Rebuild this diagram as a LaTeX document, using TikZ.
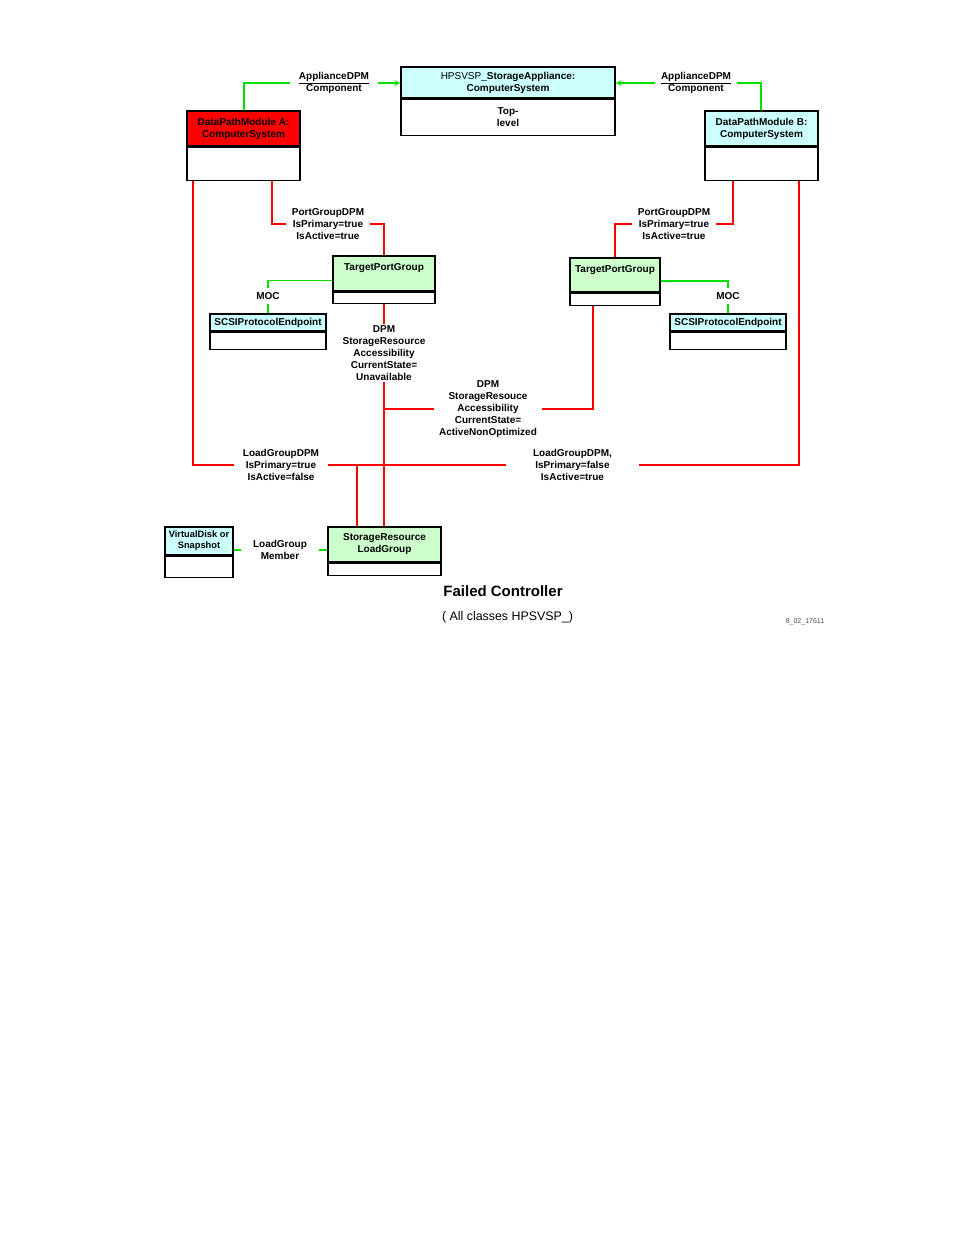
\documentclass[tikz,border=0pt]{standalone}
\usepackage{fontspec}
\setmainfont{Liberation Sans}
\usetikzlibrary{positioning}

\definecolor{hdrcyan}{RGB}{204,255,255}
\definecolor{hdrgreen}{RGB}{204,255,204}
\definecolor{linkgreen}{RGB}{0,225,0}
\definecolor{linkred}{RGB}{255,0,0}

\newcommand\boxfont{\fontsize{10}{12}\selectfont\bfseries}

\begin{document}
\begin{tikzpicture}[
  x=1pt, y=-1pt,
  cls/.style={draw, line width=1.5pt, rectangle, inner sep=0pt, align=center, font=\boxfont},
  hdcyan/.style={cls, fill=hdrcyan},
  hdgreen/.style={cls, fill=hdrgreen},
  hdred/.style={cls, fill=linkred},
  tag/.style={inner xsep=6pt, inner ysep=1pt, align=center, font=\boxfont},
  dpm/.style={draw=linkred, line width=2pt},
  comp/.style={draw=linkgreen, line width=1.6pt},
  arrow/.style={->, >=stealth}
]
\useasboundingbox (0,0) rectangle (954,1235);

% Top level system
\node[hdcyan, minimum width=214pt, minimum height=31pt] (app) at (508,82.5)
  {{\mdseries HPSVSP\_}StorageAppliance:\\ComputerSystem};
\node[cls, minimum width=214pt, minimum height=36pt, below=0pt of app] (appb) {Top-\\level};

% Data path modules
\node[hdred, minimum width=113pt, minimum height=35pt] (dpmA) at (243.5,128.5) {DataPathModule A:\\ComputerSystem};
\node[cls, minimum width=113pt, minimum height=33pt, below=0pt of dpmA] (dpmAb) {};
\node[hdcyan, minimum width=113pt, minimum height=35pt] (dpmB) at (761.5,128.5) {DataPathModule B:\\ComputerSystem};
\node[cls, minimum width=113pt, minimum height=33pt, below=0pt of dpmB] (dpmBb) {};

% Target port groups
\node[hdgreen, minimum width=102pt, minimum height=35pt] (tpgL) at (384,273.5) {TargetPortGroup\\\mbox{}};
\node[cls, minimum width=102pt, minimum height=11pt, below=0pt of tpgL] (tpgLb) {};
\node[hdgreen, minimum width=90pt, minimum height=34pt] (tpgR) at (615,275) {TargetPortGroup\\\mbox{}};
\node[cls, minimum width=90pt, minimum height=12pt, below=0pt of tpgR] (tpgRb) {};

% Protocol endpoints
\node[hdcyan, minimum width=116pt, minimum height=17pt] (scsiA) at (268,322.5) {SCSIProtocolEndpoint};
\node[cls, minimum width=116pt, minimum height=17pt, below=0pt of scsiA] (scsiAb) {};
\node[hdcyan, minimum width=116pt, minimum height=17pt] (scsiB) at (728,322.5) {SCSIProtocolEndpoint};
\node[cls, minimum width=116pt, minimum height=17pt, below=0pt of scsiB] (scsiBb) {};

% Disk and load group
\node[hdcyan, minimum width=68pt, minimum height=28pt, font=\fontsize{9.3}{11}\selectfont\bfseries] (vdisk) at (199,541) {VirtualDisk or\\Snapshot};
\node[cls, minimum width=68pt, minimum height=21pt, below=0pt of vdisk] (vdiskb) {};
\node[hdgreen, minimum width=113pt, minimum height=35pt] (lgrp) at (384.5,544.5) {StorageResource\\LoadGroup};
\node[cls, minimum width=113pt, minimum height=12pt, below=0pt of lgrp] (lgrpb) {};

% Association labels
\node[tag, inner xsep=9pt] (adpmA) at (334,83) {\underline{ApplianceDPM}\\Component};
\node[tag, inner xsep=6pt] (adpmB) at (696,83) {\underline{ApplianceDPM}\\Component};
\node[tag] (pgA) at (328,224) {PortGroupDPM\\IsPrimary=true\\IsActive=true};
\node[tag] (pgB) at (674,224) {PortGroupDPM\\IsPrimary=true\\IsActive=true};
\node[tag, inner ysep=4pt] (mocA) at (268,296) {MOC};
\node[tag, inner ysep=4pt] (mocB) at (728,296) {MOC};
\node[tag] (accA) at (384,353) {DPM\\StorageResource\\Accessibility\\CurrentState=\\Unavailable};
\node[tag, inner xsep=5pt] (accB) at (488,409) {DPM\\StorageResouce\\Accessibility\\CurrentState=\\ActiveNonOptimized};
\node[tag, inner xsep=9pt] (lgA) at (281,465) {LoadGroupDPM\\IsPrimary=true\\IsActive=false};
\node[tag, inner xsep=27pt] (lgB) at (572.5,465) {LoadGroupDPM,\\IsPrimary=false\\IsActive=true};
\node[tag, inner xsep=12pt] (lgm) at (280,550) {LoadGroup\\Member};

% Component links
\draw[comp] ([xshift=0.5pt]dpmA.north) |- (adpmA.west);
\draw[comp, arrow] (adpmA.east) -- (adpmA.east -| app.west);
\draw[comp] ([xshift=-0.5pt]dpmB.north) |- (adpmB.east);
\draw[comp, arrow] (adpmB.west) -- (adpmB.west -| app.east);
\draw[comp] ([yshift=-7pt]tpgL.west) -| (mocA.north);
\draw[comp] (mocA.south) -- (scsiA.north);
\draw[comp] ([yshift=-6pt]tpgR.east) -| (mocB.north);
\draw[comp] (mocB.south) -- (scsiB.north);
\draw[comp] ([yshift=-9pt]vdisk.east) -- (lgm.west);
\draw[comp] (lgm.east) -- (lgm.east -| lgrp.west);

% DPM links
\draw[dpm] ([xshift=28.5pt]dpmAb.south) |- (pgA.west);
\draw[dpm] (pgA.east) -| (tpgL.north);
\draw[dpm] ([xshift=-28.5pt]dpmBb.south) |- (pgB.east);
\draw[dpm] (pgB.west) -| (tpgR.north);
\draw[dpm] (tpgLb.south) -- (accA.north);
\draw[dpm] (accA.south) -- (accA.south |- lgrp.north);
\draw[dpm] ([xshift=-22pt]tpgRb.south) |- (accB.east);
\draw[dpm] (accB.west) -- (accB.west -| accA.south);
\draw[dpm] ([xshift=-50.5pt]dpmAb.south) |- (lgA.west);
\draw[dpm] (lgA.east) -| ([xshift=-28pt]lgrp.north);
\draw[dpm] ([xshift=37.5pt]dpmBb.south) |- (lgB.east);
\draw[dpm] (lgB.west) -- (lgA.east);

% Caption
\node[font=\fontsize{15}{18}\selectfont\bfseries] (title) at (503,591) {Failed Controller};
\node[font=\fontsize{12.4}{15}\selectfont] (note) at (507.5,617) {( All classes HPSVSP\_)};
\node[font=\fontsize{7}{9}\selectfont, text=black!70] (figid) at (805,622) {8\_02\_17611};

\end{tikzpicture}
\end{document}
